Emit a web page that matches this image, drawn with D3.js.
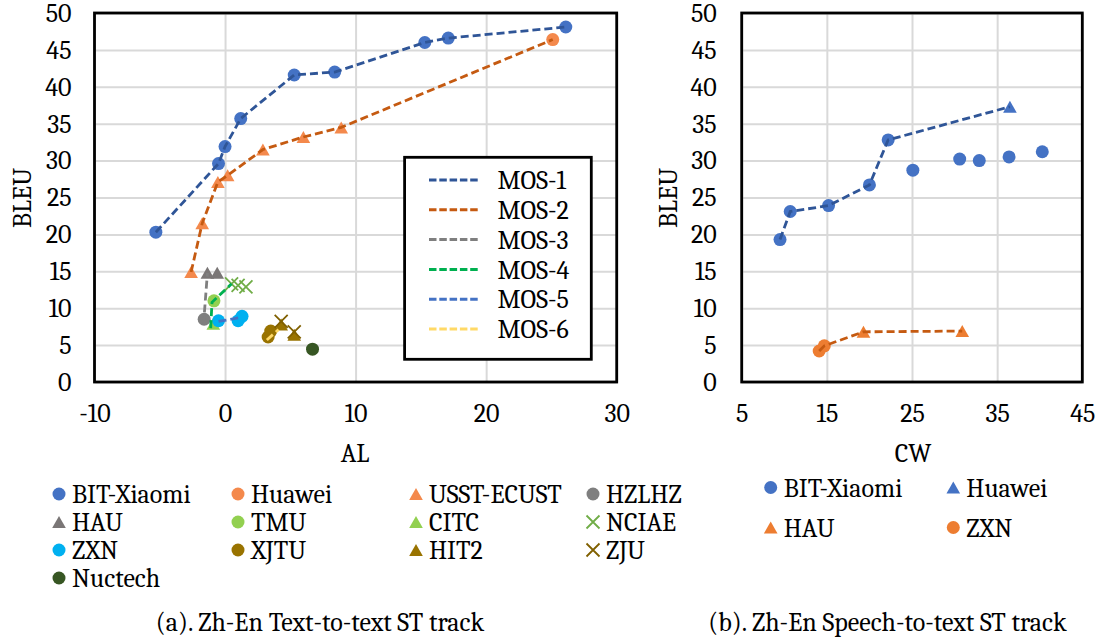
<!DOCTYPE html>
<html><head><meta charset="utf-8">
<script src="https://cdn.jsdelivr.net/npm/d3@7"></script>
<style>
html,body{margin:0;padding:0;background:#fff;}
svg{display:block;font-family:Cambria,Caladea,"Liberation Serif",serif;}
</style></head>
<body>
<svg id="c" width="1104" height="637"></svg>
<script>
// ---------- data: (a) Text-to-text track ----------
const bitX = [-5.3, -0.5, 0.0, 1.2, 5.3, 8.4, 15.3, 17.1, 26.1];
const bitY = [20.3, 29.6, 31.9, 35.7, 41.6, 42.0, 46.0, 46.6, 48.1];
const huaweiX = [25.1];
const huaweiY = [46.4];
const usstX = [-2.6, -1.75, -0.55, 0.2, 2.9, 6.0, 8.9];
const usstY = [14.9, 21.5, 27.1, 28.0, 31.5, 33.2, 34.5];
const hzlhzX = [-1.6];
const hzlhzY = [8.5];
const hauX = [-1.35, -0.6];
const hauY = [14.8, 14.8];
const tmuX = [-0.85];
const tmuY = [11.0];
const citcX = [-0.9];
const citcY = [7.9];
const nciaeX = [0.5, 1.0, 1.6];
const nciaeY = [13.3, 13.1, 12.9];
const zxnX = [-0.5, 1.0, 1.3];
const zxnY = [8.3, 8.3, 8.9];
const xjtuX = [3.3, 3.5];
const xjtuY = [6.1, 6.9];
const hit2X = [4.3, 5.3];
const hit2Y = [7.8, 6.4];
const zjuX = [4.3, 5.3];
const zjuY = [8.2, 6.8];
const nuctechX = [6.7];
const nuctechY = [4.45];
// MOS frontier lines
const mos1X = [-5.3, -0.5, 0.0, 1.2, 5.3, 8.4, 15.3, 17.1, 26.1];
const mos1Y = [20.3, 29.6, 31.9, 35.7, 41.6, 42.0, 46.0, 46.6, 48.1];
const mos2X = [-2.6, -1.75, -0.55, 0.2, 2.9, 6.0, 8.9, 25.1];
const mos2Y = [14.9, 21.5, 27.1, 28.0, 31.5, 33.2, 34.5, 46.4];
const mos3X = [-1.65, -1.35];
const mos3Y = [7.8, 14.8];
const mos4X = [-1.1, -1.0, 0.5];
const mos4Y = [7.3, 10.8, 13.3];
const mos5X = [-0.5, 1.3];
const mos5Y = [8.2, 8.8];
const mos6X = [3.2, 4.1];
const mos6Y = [5.7, 7.1];
const mosNames = ["MOS-1", "MOS-2", "MOS-3", "MOS-4", "MOS-5", "MOS-6"];
const ticksAL = [-10, 0, 10, 20, 30];
const ticksBLEU = [0, 5, 10, 15, 20, 25, 30, 35, 40, 45, 50];

// ---------- data: (b) Speech-to-text track ----------
const sBitX = [9.5, 10.7, 15.2, 20.0, 22.2, 25.1, 30.6, 32.9, 36.4, 40.3];
const sBitY = [19.3, 23.1, 23.9, 26.7, 32.8, 28.7, 30.2, 30.0, 30.5, 31.2];
const sHuaweiX = [36.5];
const sHuaweiY = [37.3];
const sHauX = [19.3, 30.9];
const sHauY = [6.8, 6.9];
const sZxnX = [14.1, 14.7];
const sZxnY = [4.2, 4.9];
const sLine1X = [9.5, 10.7, 15.2, 20.0, 22.2, 36.5];
const sLine1Y = [19.3, 23.1, 23.9, 26.7, 32.8, 37.3];
const sLine2X = [14.1, 14.7, 19.3, 30.9];
const sLine2Y = [4.2, 4.9, 6.8, 6.9];
const ticksCW = [5, 15, 25, 35, 45];

// ---------- drawing ----------
const svg = d3.select("#c");
const F = "Cambria,Caladea,'Liberation Serif',serif";
const FS = 26;

function shape(g, type, x, y, color, s) {
  s = s || 6.5;
  if (type === "circle") {
    g.append("circle").attr("cx", x).attr("cy", y).attr("r", s).attr("fill", color);
  } else if (type === "tri") {
    const h = s * 1.85, w = s * 2.1;
    g.append("path").attr("d", `M${x},${y - h / 2}L${x + w / 2},${y + h / 2}L${x - w / 2},${y + h / 2}Z`).attr("fill", color);
  } else if (type === "x") {
    const d = s;
    g.append("path").attr("d", `M${x - d},${y - d}L${x + d},${y + d}M${x - d},${y + d}L${x + d},${y - d}`)
      .attr("stroke", color).attr("stroke-width", 1.8).attr("fill", "none");
  }
}

function panel(opt) {
  const x = d3.scaleLinear().domain(opt.xDomain).range([opt.x0, opt.x1]);
  const y = d3.scaleLinear().domain([0, 50]).range([opt.y1, opt.y0]);
  const g = svg.append("g");
  const fmt = d => String(d);
  // gridlines
  g.append("g").attr("transform", `translate(0,${opt.y1})`)
    .call(d3.axisBottom(x).tickValues(opt.xTicks).tickSize(-(opt.y1 - opt.y0)).tickFormat(""))
    .call(a => { a.select(".domain").remove(); a.selectAll("line").attr("stroke", "#d9d9d9").attr("stroke-width", 2); });
  g.append("g").attr("transform", `translate(${opt.x0},0)`)
    .call(d3.axisLeft(y).tickValues(ticksBLEU).tickSize(-(opt.x1 - opt.x0)).tickFormat(""))
    .call(a => { a.select(".domain").remove(); a.selectAll("line").attr("stroke", "#d9d9d9").attr("stroke-width", 2); });
  // tick labels
  g.append("g").attr("transform", `translate(0,${opt.y1})`)
    .call(d3.axisBottom(x).tickValues(opt.xTicks).tickFormat(fmt).tickSize(0).tickPadding(22))
    .call(a => { a.select(".domain").remove(); a.selectAll("text").attr("font-family", F).attr("font-size", FS).attr("fill", "#000"); });
  g.append("g").attr("transform", `translate(${opt.x0},0)`)
    .call(d3.axisLeft(y).tickValues(ticksBLEU).tickFormat(fmt).tickSize(0).tickPadding(opt.yPad))
    .call(a => { a.select(".domain").remove(); a.selectAll("text").attr("font-family", F).attr("font-size", FS).attr("fill", "#000"); });
  // border
  g.append("rect").attr("x", opt.x0).attr("y", opt.y0).attr("width", opt.x1 - opt.x0).attr("height", opt.y1 - opt.y0)
    .attr("fill", "none").attr("stroke", "#000").attr("stroke-width", 2.8);
  // axis titles
  g.append("text").attr("x", opt.xTitleX).attr("y", 453).attr("dy", "0.35em").attr("text-anchor", "middle")
    .attr("font-family", F).attr("font-size", FS).text(opt.xTitle);
  g.append("text").attr("transform", `translate(${opt.yTitleX},198) rotate(-90)`).attr("dy", "0.35em").attr("text-anchor", "middle")
    .attr("font-family", F).attr("font-size", FS).text("BLEU");
  return { g, x, y };
}

// ---- panel (a)
const A = panel({ x0: 94.5, x1: 616.7, y0: 13, y1: 382, xDomain: [-10, 30], xTicks: ticksAL, yPad: 23,
  xTitle: "AL", xTitleX: 355, yTitleX: 22 });

const seriesA = [
  { n: "BIT-Xiaomi", xs: bitX, ys: bitY, t: "circle", c: "#4472C4" },
  { n: "Huawei", xs: huaweiX, ys: huaweiY, t: "circle", c: "#F4894C" },
  { n: "USST-ECUST", xs: usstX, ys: usstY, t: "tri", c: "#F4894C" },
  { n: "HZLHZ", xs: hzlhzX, ys: hzlhzY, t: "circle", c: "#7F7F7F" },
  { n: "HAU", xs: hauX, ys: hauY, t: "tri", c: "#7A7676" },
  { n: "TMU", xs: tmuX, ys: tmuY, t: "circle", c: "#92D050" },
  { n: "CITC", xs: citcX, ys: citcY, t: "tri", c: "#92D050" },
  { n: "NCIAE", xs: nciaeX, ys: nciaeY, t: "x", c: "#70AD47" },
  { n: "ZXN", xs: zxnX, ys: zxnY, t: "circle", c: "#00B0F0" },
  { n: "XJTU", xs: xjtuX, ys: xjtuY, t: "circle", c: "#997300" },
  { n: "HIT2", xs: hit2X, ys: hit2Y, t: "tri", c: "#997300" },
  { n: "ZJU", xs: zjuX, ys: zjuY, t: "x", c: "#806000" },
  { n: "Nuctech", xs: nuctechX, ys: nuctechY, t: "circle", c: "#375623" }
];
const mosA = [
  { xs: mos1X, ys: mos1Y, c: "#2F5597" },
  { xs: mos2X, ys: mos2Y, c: "#C55A11" },
  { xs: mos3X, ys: mos3Y, c: "#7F7F7F" },
  { xs: mos4X, ys: mos4Y, c: "#00B050" },
  { xs: mos5X, ys: mos5Y, c: "#4472C4" },
  { xs: mos6X, ys: mos6Y, c: "#FFD966" }
];

function drawMarkers(P, series) {
  series.forEach(s => s.xs.forEach((v, i) => shape(P.g, s.t, P.x(v), P.y(s.ys[i]), s.c)));
}
function drawLines(P, lines) {
  const line = d3.line();
  lines.forEach(l => {
    P.g.append("path").attr("d", line(l.xs.map((v, i) => [P.x(v), P.y(l.ys[i])])))
      .attr("fill", "none").attr("stroke", l.c).attr("stroke-width", 2.8).attr("stroke-dasharray", "8,4");
  });
}
drawMarkers(A, seriesA);
drawLines(A, mosA);

// inner legend (MOS lines)
const lg = A.g.append("g");
lg.append("rect").attr("x", 404.6).attr("y", 157.3).attr("width", 186.7).attr("height", 202)
  .attr("fill", "#fff").attr("stroke", "#000").attr("stroke-width", 2.8);
mosNames.forEach((n, i) => {
  const yy = 180 + i * 29.8;
  lg.append("line").attr("x1", 429).attr("x2", 479).attr("y1", yy).attr("y2", yy)
    .attr("stroke", mosA[i].c).attr("stroke-width", 3).attr("stroke-dasharray", "7.5,2.8");
  lg.append("text").attr("x", 497.5).attr("y", yy).attr("dy", "0.35em").attr("font-family", F).attr("font-size", FS).text(n);
});

// bottom legend (a)
const colX = [59, 238, 416, 593];
const rowY = [494, 522, 550, 578];
seriesA.forEach((s, i) => {
  const cx = colX[i % 4], cy = rowY[Math.floor(i / 4)];
  shape(svg, s.t, cx, cy, s.c, 6.5);
  svg.append("text").attr("x", cx + 13).attr("y", cy).attr("dy", "0.35em").attr("font-family", F).attr("font-size", FS).text(s.n);
});
svg.append("text").attr("x", 320).attr("y", 622).attr("dy", "0.35em").attr("text-anchor", "middle")
  .attr("font-family", F).attr("font-size", FS).text("(a). Zh-En Text-to-text ST track");

// ---- panel (b)
const B = panel({ x0: 741.7, x1: 1082.3, y0: 13, y1: 382, xDomain: [5, 45], xTicks: ticksCW, yPad: 25,
  xTitle: "CW", xTitleX: 913, yTitleX: 668 });
const seriesB = [
  { n: "BIT-Xiaomi", xs: sBitX, ys: sBitY, t: "circle", c: "#4472C4" },
  { n: "Huawei", xs: sHuaweiX, ys: sHuaweiY, t: "tri", c: "#4472C4" },
  { n: "HAU", xs: sHauX, ys: sHauY, t: "tri", c: "#ED7D31" },
  { n: "ZXN", xs: sZxnX, ys: sZxnY, t: "circle", c: "#ED7D31" }
];
drawMarkers(B, seriesB);
drawLines(B, [{ xs: sLine1X, ys: sLine1Y, c: "#2F5597" }, { xs: sLine2X, ys: sLine2Y, c: "#C55A11" }]);
const colXB = [770.7, 953.3];
const rowYB = [487.5, 527.5];
seriesB.forEach((s, i) => {
  const cx = colXB[i % 2], cy = rowYB[Math.floor(i / 2)];
  shape(svg, s.t, cx, cy, s.c, 6.5);
  svg.append("text").attr("x", cx + 13).attr("y", cy).attr("dy", "0.35em").attr("font-family", F).attr("font-size", FS).text(s.n);
});
svg.append("text").attr("x", 887.5).attr("y", 622).attr("dy", "0.35em").attr("text-anchor", "middle")
  .attr("font-family", F).attr("font-size", FS).text("(b). Zh-En Speech-to-text ST track");
</script>
</body></html>
